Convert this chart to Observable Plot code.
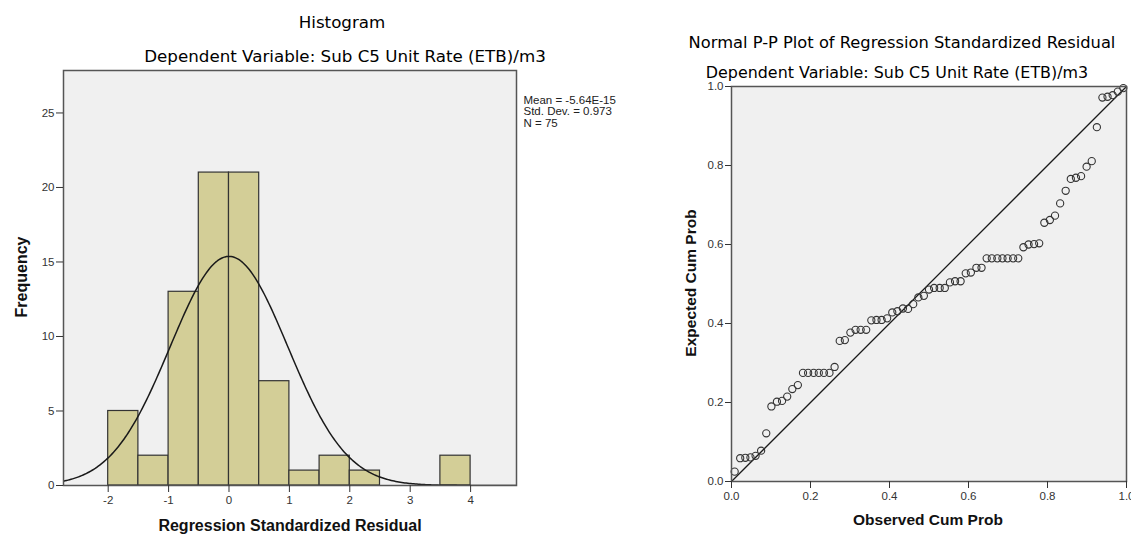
<!DOCTYPE html>
<html><head><meta charset="utf-8">
<script src="https://cdn.jsdelivr.net/npm/d3@7"></script>
<script src="https://cdn.jsdelivr.net/npm/@observablehq/plot@0.6"></script>
<style>
body{margin:0;background:#fff;width:1131px;height:534px;overflow:hidden;position:relative;font-family:"Liberation Sans",Arial,sans-serif;}
.t{position:absolute;white-space:nowrap;transform:translate(-50%,-50%);line-height:1;color:#000;}
.title{font-family:"DejaVu Sans",sans-serif;}
.lab{font-weight:bold;color:#111;}
.rot{transform:translate(-50%,-50%) rotate(-90deg);}
#h{position:absolute;top:0;left:0;width:640px;}
#p{position:absolute;top:0;left:660px;width:471px;}
</style></head><body>
<div id="h"></div><div id="p"></div>
<div class="t title" style="left:342px;top:22px;font-size:16.7px">Histogram</div>
<div class="t title" style="left:345px;top:56px;font-size:16.7px">Dependent Variable: Sub C5 Unit Rate (ETB)/m3</div>
<div class="t title" style="left:902px;top:43px;font-size:16.3px">Normal P-P Plot of Regression Standardized Residual</div>
<div class="t title" style="left:897px;top:72.5px;font-size:15.9px">Dependent Variable: Sub C5 Unit Rate (ETB)/m3</div>
<div class="t lab rot" style="left:22px;top:277px;font-size:16px">Frequency</div>
<div class="t lab" style="left:290px;top:526px;font-size:16px">Regression Standardized Residual</div>
<div class="t lab rot" style="left:691px;top:283px;font-size:15.5px">Expected Cum Prob</div>
<div class="t lab" style="left:928px;top:520px;font-size:15.5px">Observed Cum Prob</div>
<script>
// ---- Histogram data ----
const binLower = [-2, -1.5, -1, -0.5, 0, 0.5, 1, 1.5, 2, 2.5, 3, 3.5];
const binUpper = [-1.5, -1, -0.5, 0, 0.5, 1, 1.5, 2, 2.5, 3, 3.5, 4];
const frequency = [5, 2, 13, 21, 21, 7, 1, 2, 1, 0, 0, 2];
const histXTicks = [-2, -1, 0, 1, 2, 3, 4];
const histYTicks = [0, 5, 10, 15, 20, 25];
const residMean = -5.64e-15;
const residSD = 0.973;
const residN = 75;
const statsLines = ["Mean = -5.64E-15", "Std. Dev. = 0.973", "N = 75"];

// ---- P-P plot data ----
const observedCum = [0.008,0.022,0.035,0.048,0.061,0.075,0.088,0.101,0.115,0.128,0.141,0.154,0.168,0.181,0.194,0.208,0.221,0.234,0.248,0.261,0.274,0.287,0.301,0.314,0.327,0.341,0.354,0.367,0.380,0.394,0.407,0.420,0.434,0.447,0.460,0.473,0.487,0.500,0.513,0.527,0.540,0.553,0.566,0.580,0.593,0.606,0.620,0.633,0.646,0.659,0.673,0.686,0.699,0.713,0.726,0.739,0.752,0.766,0.779,0.792,0.806,0.819,0.832,0.846,0.859,0.872,0.885,0.899,0.912,0.925,0.939,0.952,0.965,0.978,0.992];
const expectedCum = [0.025,0.059,0.060,0.061,0.065,0.078,0.122,0.190,0.202,0.204,0.215,0.234,0.244,0.275,0.275,0.275,0.275,0.275,0.275,0.290,0.356,0.358,0.377,0.384,0.384,0.384,0.408,0.409,0.409,0.413,0.428,0.431,0.438,0.437,0.449,0.466,0.470,0.486,0.490,0.490,0.490,0.504,0.507,0.507,0.527,0.529,0.541,0.541,0.565,0.565,0.565,0.565,0.565,0.565,0.565,0.593,0.600,0.601,0.603,0.655,0.662,0.673,0.704,0.736,0.766,0.769,0.773,0.797,0.811,0.897,0.972,0.974,0.978,0.987,0.996];
const ppTicks = [0, 0.2, 0.4, 0.6, 0.8, 1.0];
const diagonal = [0, 1];

const axisStyle = {fontFamily: "'Liberation Sans', Arial, sans-serif", fontSize: "11.5px", color: "#333", background: "transparent"};
const hyphen = d => String(d).replace("\u2212", "-");

// Histogram
const bins = binLower.map((lo, i) => ({lo, hi: binUpper[i], n: frequency[i]})).filter(d => d.n > 0);
const xDom = [-2.74, 4.76];
const binW = binUpper[0] - binLower[0];
const curve = d3.range(0, 301).map(k => {
  const x = xDom[0] + (xDom[1] - xDom[0]) * k / 300;
  const z = (x - residMean) / residSD;
  return {x, y: residN * binW * Math.exp(-0.5 * z * z) / (residSD * Math.sqrt(2 * Math.PI))};
});

const hist = Plot.plot({
  width: 640, height: 534,
  marginLeft: 63, marginRight: 124, marginTop: 70, marginBottom: 49,
  style: axisStyle,
  x: {domain: xDom},
  y: {domain: [0, 27.85]},
  marks: [
    Plot.frame({fill: "#f0f0f0", stroke: null}),
    Plot.rectY(bins, {x1: "lo", x2: "hi", y: "n", fill: "#d3ce97", stroke: "#333", strokeWidth: 1.2}),
    Plot.line(curve, {x: "x", y: "y", stroke: "#1a1a1a", strokeWidth: 1.5, clip: true}),
    Plot.frame({stroke: "#555", strokeWidth: 1.5}),
    Plot.axisX({ticks: histXTicks, tickFormat: d => `${d}`, tickSize: 7, tickPadding: 3, label: null, stroke: "#333", fontSize: 11.5}),
    Plot.axisY({ticks: histYTicks, tickFormat: d => `${d}`, tickSize: 7, tickPadding: 2, label: null, stroke: "#333", fontSize: 11.5}),
    Plot.text([statsLines.join("\n")], {frameAnchor: "top-right", textAnchor: "start", lineAnchor: "top", dx: 7, dy: 25, lineHeight: 1.0, fontSize: 11.5, fill: "#222"})
  ]
});
document.getElementById("h").appendChild(hist);

// P-P plot
const pts = observedCum.map((x, i) => ({x, y: expectedCum[i]}));
const pp = Plot.plot({
  width: 471, height: 534,
  marginLeft: 71, marginRight: 5, marginTop: 86, marginBottom: 53,
  style: axisStyle,
  x: {domain: [0, 1]},
  y: {domain: [0, 1]},
  marks: [
    Plot.frame({fill: "#f0f0f0", stroke: null}),
    Plot.line(diagonal.map(v => ({v})), {x: "v", y: "v", stroke: "#1a1a1a", strokeWidth: 1.3}),
    Plot.dot(pts, {x: "x", y: "y", r: 3.6, stroke: "#333", fill: "none", strokeWidth: 1.1}),
    Plot.frame({stroke: "#555", strokeWidth: 1.5}),
    Plot.axisX({ticks: ppTicks, tickFormat: d3.format(".1f"), tickSize: 7, tickPadding: 3, label: null, stroke: "#333", fontSize: 11.5}),
    Plot.axisY({ticks: ppTicks, tickFormat: d3.format(".1f"), tickSize: 6, tickPadding: 2, label: null, stroke: "#333", fontSize: 11.5})
  ]
});
document.getElementById("p").appendChild(pp);
</script>
</body></html>
